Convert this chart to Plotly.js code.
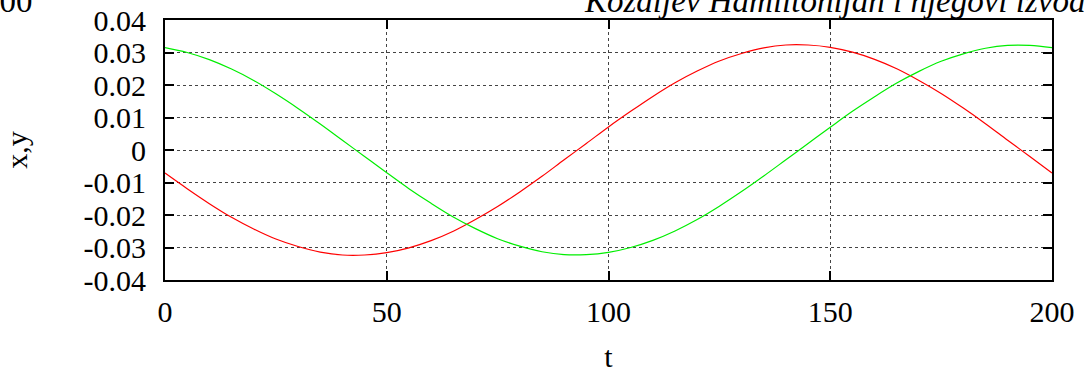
<!DOCTYPE html>
<html>
<head>
<meta charset="utf-8">
<script src="https://cdn.plot.ly/plotly-3.0.1.min.js"></script>
</head>
<body style="margin:0; font-family:'Liberation Serif', serif">
<div id="chart" style="width:1084px;height:373px"></div>
<script>
// time samples
const t = [0, 5, 10, 15, 20, 25, 30, 35, 40, 45, 50, 55, 60, 65, 70, 75, 80, 85, 90, 95, 100,
           105, 110, 115, 120, 125, 130, 135, 140, 145, 150, 155, 160, 165, 170, 175, 180, 185, 190, 195, 200];

// x(t), drawn in red
const xVals = [-0.0071, -0.0119, -0.0165, -0.0207, -0.0243, -0.0274, -0.0297, -0.0314, -0.0323, -0.0323,
               -0.0316, -0.0301, -0.0279, -0.0250, -0.0214, -0.0174, -0.0129, -0.0081, -0.0030, 0.0020,
               0.0071, 0.0119, 0.0165, 0.0207, 0.0243, 0.0274, 0.0297, 0.0314, 0.0323, 0.0323,
               0.0316, 0.0301, 0.0279, 0.0250, 0.0214, 0.0174, 0.0129, 0.0081, 0.0030, -0.0020, -0.0071];

// y(t), drawn in green
const yVals = [0.0315, 0.0300, 0.0278, 0.0249, 0.0214, 0.0173, 0.0128, 0.0080, 0.0030, -0.0020,
               -0.0070, -0.0119, -0.0164, -0.0206, -0.0242, -0.0273, -0.0296, -0.0313, -0.0322, -0.0322,
               -0.0315, -0.0300, -0.0278, -0.0249, -0.0214, -0.0173, -0.0128, -0.0080, -0.0030, 0.0020,
               0.0070, 0.0119, 0.0164, 0.0206, 0.0242, 0.0273, 0.0296, 0.0313, 0.0322, 0.0322, 0.0315];

const xTicks = [0, 50, 100, 150, 200];
const yTicks = [-0.04, -0.03, -0.02, -0.01, 0, 0.01, 0.02, 0.03, 0.04];
const yTickText = ['-0.04', '-0.03', '-0.02', '-0.01', '0', '0.01', '0.02', '0.03', '0.04'];

const FONT = 'Liberation Serif';

function axisStyle(extra) {
  return Object.assign({
    showline: true, linecolor: '#000', linewidth: 2, mirror: 'allticks',
    ticks: 'inside', ticklen: 9, tickwidth: 2, tickcolor: '#000',
    showgrid: true, gridcolor: '#444', griddash: 'dot', gridwidth: 1,
    zeroline: false,
    tickfont: { family: FONT, size: 30, color: '#000' }
  }, extra);
}

function draw() {
  const traces = [
    { x: t, y: xVals, mode: 'lines', name: 'x',
      line: { color: '#ff0000', width: 1.2, shape: 'spline' }, hoverinfo: 'skip' },
    { x: t, y: yVals, mode: 'lines', name: 'y',
      line: { color: '#00ee00', width: 1.2, shape: 'spline' }, hoverinfo: 'skip' }
  ];

  const layout = {
    width: 1084, height: 373,
    margin: { l: 165, r: 32, t: 20, b: 93 },
    paper_bgcolor: '#fff', plot_bgcolor: '#fff',
    font: { family: FONT, color: '#000' },
    showlegend: false,
    xaxis: axisStyle({
      range: [0, 200], tickmode: 'array', tickvals: xTicks,
      ticklabelstandoff: 4,
      title: { text: 't', font: { family: FONT, size: 30, color: '#000' }, standoff: 19 }
    }),
    yaxis: axisStyle({
      range: [-0.04, 0.04], tickmode: 'array', tickvals: yTicks, ticktext: yTickText,
      ticklabelstandoff: 11,
      title: { text: 'x,y', font: { family: FONT, size: 30, color: '#000' }, standoff: 47 }
    }),
    annotations: [
      { text: '<i>Kozaljev Hamiltonijan i njegovi izvodi</i>', xref: 'paper', yref: 'paper',
        x: 0.470, y: 1.072, xanchor: 'left', yanchor: 'middle', showarrow: false,
        font: { family: FONT, size: 33, color: '#000' } },
      { text: '100', xref: 'paper', yref: 'paper',
        x: -0.147, y: 1.072, xanchor: 'right', yanchor: 'middle', showarrow: false,
        font: { family: FONT, size: 33, color: '#000' } }
    ]
  };

  Plotly.newPlot('chart', traces, layout, { displayModeBar: false });
}

// make sure the serif face is resolved before the text is measured
if (document.fonts && document.fonts.load) {
  Promise.all([
    document.fonts.load('30px "Liberation Serif"'),
    document.fonts.load('italic 33px "Liberation Serif"')
  ]).then(draw, draw);
} else {
  draw();
}
</script>
</body>
</html>
